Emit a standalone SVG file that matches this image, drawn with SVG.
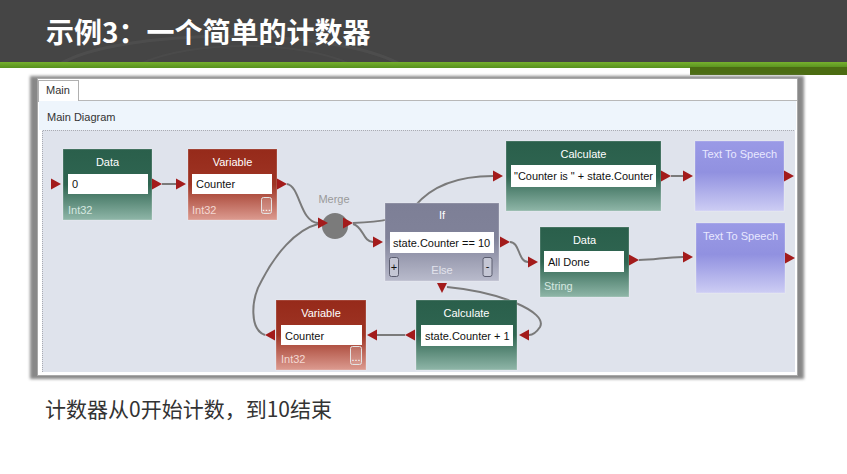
<svg xmlns="http://www.w3.org/2000/svg" width="847" height="474" viewBox="0 0 847 474">
  <defs>
    <linearGradient id="gGreen" x1="0" y1="0" x2="0" y2="1">
      <stop offset="0" stop-color="#2a5f4b"/>
      <stop offset="0.5" stop-color="#2f6551"/>
      <stop offset="1" stop-color="#8fb6a8"/>
    </linearGradient>
    <linearGradient id="gRed" x1="0" y1="0" x2="0" y2="1">
      <stop offset="0" stop-color="#962a1a"/>
      <stop offset="0.5" stop-color="#9e3424"/>
      <stop offset="1" stop-color="#dc9b90"/>
    </linearGradient>
    <linearGradient id="gIf" x1="0" y1="0" x2="0" y2="1">
      <stop offset="0" stop-color="#7d7f96"/>
      <stop offset="0.45" stop-color="#808299"/>
      <stop offset="1" stop-color="#b9bbcc"/>
    </linearGradient>
    <linearGradient id="gTts" x1="0" y1="0" x2="0" y2="1">
      <stop offset="0" stop-color="#9a9ae6"/>
      <stop offset="0.45" stop-color="#9191e0"/>
      <stop offset="1" stop-color="#cdcdf4"/>
    </linearGradient>
    <linearGradient id="gStripe" x1="0" y1="0" x2="0" y2="1">
      <stop offset="0" stop-color="#76b02e"/>
      <stop offset="1" stop-color="#57901e"/>
    </linearGradient>
    <filter id="shadow" x="-5%" y="-5%" width="110%" height="110%">
      <feGaussianBlur stdDeviation="1.4"/>
    </filter>
    <!-- port arrowheads -->
    <polygon id="portR" points="0,-5.5 10,0 0,5.5"/>
    <polygon id="portL" points="10,-5.5 0,0 10,5.5"/>
    <polygon id="portD" points="-5,0 5,0 0,10"/>
  </defs>
  <style>
    .hdr { font-family: "Noto Sans CJK SC", "Noto Sans", sans-serif; font-weight: bold; font-size: 28px; fill: #ffffff; }
    .cap { font-family: "Noto Sans CJK SC", "Noto Sans", sans-serif; font-size: 21px; fill: #333333; }
    .ui { font-family: "Liberation Sans", Arial, sans-serif; font-size: 11px; fill: #333333; }
    .title { font-family: "Liberation Sans", Arial, sans-serif; font-size: 11px; fill: #ffffff; text-anchor: middle; }
    .txt { font-family: "Liberation Sans", Arial, sans-serif; font-size: 11px; fill: #111111; }
    .sub { font-family: "Liberation Sans", Arial, sans-serif; font-size: 11px; }
    .box { fill: #ffffff; }
    .port { fill: #a31b1b; }
    .wire { fill: none; stroke: #7a7a7a; stroke-width: 2; }
    .btn { fill: #ffffff; fill-opacity: 0.15; stroke: #e4e4e4; stroke-width: 1; }
    .btnG { fill: #c4c6d4; stroke: #5a5c6e; stroke-width: 1; }
    .node { stroke: #ffffff; stroke-opacity: 0.25; stroke-width: 1; }
  </style>

  <!-- slide header -->
  <rect x="0" y="0" width="847" height="62" fill="#454545"/>
  <path d="M60,64 C120,28 330,26 400,64" fill="none" stroke="#545454" stroke-width="3" opacity="0.6"/>
  <path d="M140,64 C190,40 300,40 350,64" fill="none" stroke="#505050" stroke-width="2" opacity="0.5"/>
  <rect x="0" y="62" width="847" height="6" fill="url(#gStripe)"/>
  <rect x="690" y="67" width="157" height="8" fill="#4b6c12"/>
  <text class="hdr" x="46" y="43">示例3：一个简单的计数器</text>

  <!-- editor window -->
  <rect x="30" y="76" width="774" height="303" fill="#888888" filter="url(#shadow)"/>
  <rect x="37.5" y="78.5" width="760" height="297" fill="#ffffff" stroke="#a8a8a8"/>
  <line x1="78" y1="100.5" x2="797" y2="100.5" stroke="#b8b8b8"/>
  <rect x="38.5" y="80.5" width="40" height="21" fill="#ffffff" stroke="#b0b0b0"/>
  <rect x="39" y="100" width="39" height="3" fill="#ffffff"/>
  <text class="ui" x="46" y="94">Main</text>
  <rect x="39" y="101" width="757" height="29" fill="#eef5fc"/>
  <text class="ui" x="47" y="121">Main Diagram</text>
  <rect x="42" y="130" width="753" height="242" fill="#dfe3ec"/>
  <path d="M42.5,372 V130.5 H795" fill="none" stroke="#a9abb2" stroke-dasharray="1,1"/>

  <!-- connectors -->
  <g id="connectors">
    <path class="wire" d="M162,184 L176,184"/>
    <path class="wire" d="M287,184 C300,186 300,222 318,223"/>
    <path class="wire" d="M353,223 C378,222 402,220 415,206 C430,188 455,176 493,176"/>
    <path class="wire" d="M353,224 C363,226 363,242 373,242"/>
    <path class="wire" d="M510,242 C520,242 518,262 528,262"/>
    <path class="wire" d="M671,176 L683,176"/>
    <path class="wire" d="M639,260 C655,260 665,257 683,257"/>
    <path class="wire" d="M447,287 C500,292 548,312 540,327 C536,333 532,335 529,335"/>
    <path class="wire" d="M405,335 L377,335"/>
    <path class="wire" d="M265,335 C250,330 250,300 262,280 C275,255 295,230 318,224"/>
  </g>

  <!-- Data: 0 -->
  <g id="data-zero">
    <rect class="node" x="63" y="149" width="89" height="71" fill="url(#gGreen)"/>
    <text class="title" x="107.5" y="166">Data</text>
    <rect class="box" x="68" y="174" width="80" height="20"/>
    <text class="txt" x="72" y="188">0</text>
    <text class="sub" x="68" y="214" fill="#d6e8e0">Int32</text>
    <use href="#portR" class="port" x="51" y="184"/>
    <use href="#portR" class="port" x="152" y="184"/>
  </g>

  <!-- Variable: Counter (init) -->
  <g id="variable-counter-init">
    <rect class="node" x="188" y="149" width="89" height="71" fill="url(#gRed)"/>
    <text class="title" x="232.5" y="166">Variable</text>
    <rect class="box" x="192" y="174" width="80" height="20"/>
    <text class="txt" x="196" y="188">Counter</text>
    <text class="sub" x="192" y="214" fill="#f4d8d2">Int32</text>
    <rect class="btn" x="261.5" y="197.5" width="10" height="16" rx="2"/>
    <text class="title" x="266.5" y="211" font-size="7">...</text>
    <use href="#portR" class="port" x="176" y="184"/>
    <use href="#portR" class="port" x="277" y="184"/>
  </g>

  <!-- Merge -->
  <g id="merge">
    <text class="title" x="334" y="203" style="fill:#9a9a9a">Merge</text>
    <circle cx="335" cy="226" r="13" fill="#7b7b7b"/>
    <use href="#portR" class="port" x="318" y="223"/>
    <use href="#portR" class="port" x="343" y="223"/>
  </g>

  <!-- If -->
  <g id="if-done">
    <rect class="node" x="385" y="203" width="114" height="78" fill="url(#gIf)"/>
    <text class="title" x="442" y="219">If</text>
    <rect class="box" x="390" y="232" width="104" height="21"/>
    <text class="txt" x="393" y="246.5">state.Counter == 10</text>
    <rect class="btnG" x="389.5" y="257.5" width="9" height="19" rx="2"/>
    <text class="txt" x="394" y="271" text-anchor="middle" font-size="9">+</text>
    <rect class="btnG" x="483" y="257.5" width="9" height="19" rx="2"/>
    <text class="txt" x="487.5" y="270" text-anchor="middle" font-size="9">-</text>
    <text class="title" x="442" y="274" style="fill:#e2e3ec">Else</text>
    <use href="#portR" class="port" x="373" y="242"/>
    <use href="#portR" class="port" x="500" y="242"/>
    <use href="#portD" class="port" x="442" y="283"/>
  </g>

  <!-- Calculate: message -->
  <g id="calculate-message">
    <rect class="node" x="506" y="141" width="155" height="70" fill="url(#gGreen)"/>
    <text class="title" x="583.5" y="158">Calculate</text>
    <rect class="box" x="511" y="165" width="145" height="22"/>
    <text class="txt" x="514" y="180" textLength="139" lengthAdjust="spacingAndGlyphs">"Counter is " + state.Counter</text>
    <use href="#portR" class="port" x="493" y="176"/>
    <use href="#portR" class="port" x="661" y="176"/>
  </g>

  <!-- Text To Speech (count) -->
  <g id="tts-count">
    <rect class="node" x="695" y="141" width="89" height="70" fill="url(#gTts)"/>
    <text class="title" x="739.5" y="158" style="fill:#e8e8ff">Text To Speech</text>
    <use href="#portR" class="port" x="683" y="176"/>
    <use href="#portR" class="port" x="784" y="176"/>
  </g>

  <!-- Data: All Done -->
  <g id="data-all-done">
    <rect class="node" x="540" y="227" width="89" height="70" fill="url(#gGreen)"/>
    <text class="title" x="584.5" y="244">Data</text>
    <rect class="box" x="544" y="251" width="80" height="21"/>
    <text class="txt" x="548" y="265.5">All Done</text>
    <text class="sub" x="544" y="290" fill="#d6e8e0">String</text>
    <use href="#portR" class="port" x="528" y="262"/>
    <use href="#portR" class="port" x="629" y="260"/>
  </g>

  <!-- Text To Speech (done) -->
  <g id="tts-done">
    <rect class="node" x="696" y="223" width="89" height="70" fill="url(#gTts)"/>
    <text class="title" x="740.5" y="240" style="fill:#e8e8ff">Text To Speech</text>
    <use href="#portR" class="port" x="683" y="257"/>
    <use href="#portR" class="port" x="785" y="258"/>
  </g>

  <!-- Variable: Counter (update) -->
  <g id="variable-counter-update">
    <rect class="node" x="276" y="300" width="90" height="70" fill="url(#gRed)"/>
    <text class="title" x="321" y="317">Variable</text>
    <rect class="box" x="281" y="325" width="81" height="20"/>
    <text class="txt" x="285" y="339.5">Counter</text>
    <text class="sub" x="281" y="363" fill="#f4d8d2">Int32</text>
    <rect class="btn" x="350.5" y="346.5" width="11" height="18" rx="2"/>
    <text class="title" x="356" y="361" font-size="7">...</text>
    <use href="#portL" class="port" x="265" y="335"/>
    <use href="#portL" class="port" x="367" y="335"/>
  </g>

  <!-- Calculate: increment -->
  <g id="calculate-increment">
    <rect class="node" x="416" y="300" width="101" height="70" fill="url(#gGreen)"/>
    <text class="title" x="466.5" y="317">Calculate</text>
    <rect class="box" x="421" y="325" width="92" height="21"/>
    <text class="txt" x="425" y="340">state.Counter + 1</text>
    <use href="#portL" class="port" x="405" y="335"/>
    <use href="#portL" class="port" x="519" y="335"/>
  </g>

  <!-- caption -->
  <text class="cap" x="45" y="417">计数器从0开始计数，到10结束</text>
</svg>
